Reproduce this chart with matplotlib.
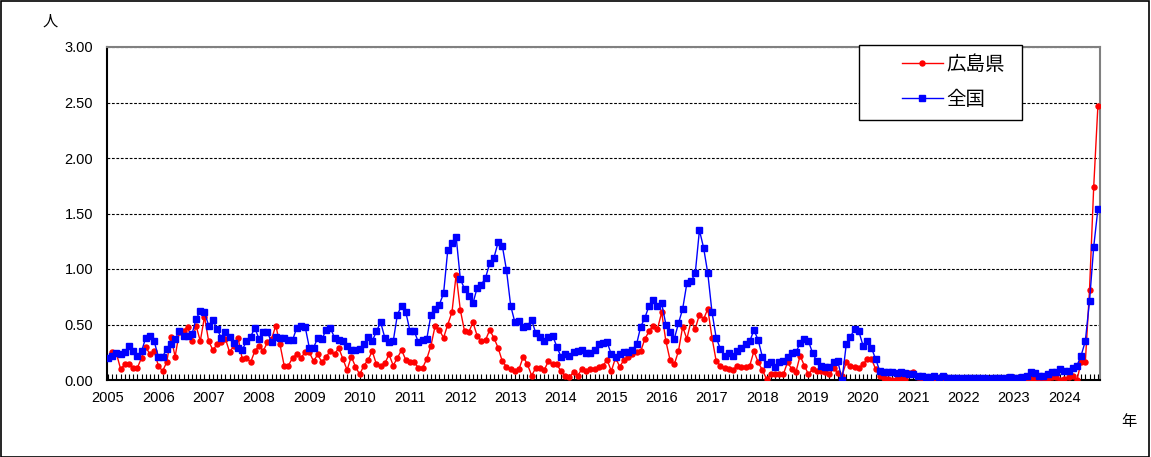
# plot.py
# 広島県と全国の月別推移 (2005年1月〜2024年9月)

import matplotlib
matplotlib.use("Agg")
import matplotlib.pyplot as plt
from matplotlib.patches import Rectangle
from matplotlib.ticker import FixedLocator, FormatStrFormatter

plt.rcParams["font.family"] = ["Liberation Sans", "Noto Sans CJK JP", "DejaVu Sans"]

YEARS = [str(y) for y in range(2005, 2025)]

# 広島県 (1年ごとに12か月、2024年は9か月)
hiroshima_05_09 = [
    0.20, 0.25, 0.24, 0.10, 0.14, 0.14, 0.11, 0.11, 0.20, 0.30, 0.23, 0.26,
    0.13, 0.08, 0.16, 0.39, 0.21, 0.43, 0.44, 0.48, 0.35, 0.49, 0.35, 0.57,
    0.35, 0.27, 0.32, 0.34, 0.37, 0.25, 0.31, 0.38, 0.19, 0.20, 0.16, 0.26,
    0.31, 0.26, 0.34, 0.37, 0.49, 0.32, 0.13, 0.13, 0.20, 0.23, 0.20, 0.25,
    0.25, 0.17, 0.23, 0.16, 0.21, 0.26, 0.23, 0.29, 0.19, 0.09, 0.21, 0.12,
]
hiroshima_10_14 = [
    0.05, 0.13, 0.18, 0.26, 0.14, 0.13, 0.15, 0.23, 0.13, 0.20, 0.27, 0.18,
    0.16, 0.16, 0.11, 0.11, 0.19, 0.31, 0.49, 0.45, 0.38, 0.50, 0.61, 0.95,
    0.63, 0.44, 0.43, 0.52, 0.40, 0.35, 0.36, 0.45, 0.38, 0.29, 0.17, 0.12,
    0.10, 0.08, 0.10, 0.21, 0.14, 0.04, 0.11, 0.11, 0.09, 0.17, 0.14, 0.14,
    0.08, 0.04, 0.03, 0.07, 0.04, 0.10, 0.08, 0.10, 0.10, 0.12, 0.13, 0.18,
]
hiroshima_15_19 = [
    0.08, 0.20, 0.12, 0.18, 0.21, 0.23, 0.25, 0.26, 0.37, 0.44, 0.49, 0.46,
    0.61, 0.35, 0.18, 0.14, 0.26, 0.48, 0.37, 0.53, 0.46, 0.59, 0.55, 0.64,
    0.38, 0.17, 0.13, 0.11, 0.10, 0.09, 0.13, 0.12, 0.12, 0.13, 0.26, 0.16,
    0.09, 0.01, 0.05, 0.05, 0.05, 0.05, 0.16, 0.10, 0.07, 0.22, 0.13, 0.05,
    0.10, 0.08, 0.08, 0.07, 0.05, 0.11, 0.06, 0.04, 0.16, 0.13, 0.12, 0.11,
]
hiroshima_20_24 = [
    0.14, 0.19, 0.19, 0.10, 0.04, 0.02, 0.01, 0.00, 0.01, 0.01, 0.01, 0.06,
    0.07, 0.03, 0.00, 0.01, 0.01, 0.00, 0.00, 0.01, 0.00, 0.00, 0.01, 0.00,
    0.00, 0.01, 0.00, 0.00, 0.01, 0.00, 0.00, 0.01, 0.00, 0.01, 0.00, 0.01,
    0.00, 0.01, 0.02, 0.00, 0.01, 0.02, 0.01, 0.00, 0.01, 0.03, 0.03, 0.00,
    0.01, 0.03, 0.04, 0.00, 0.16, 0.16, 0.81, 1.74, 2.47,
]

# 全国
zenkoku_05_09 = [
    0.20, 0.22, 0.24, 0.23, 0.25, 0.31, 0.26, 0.22, 0.26, 0.38, 0.40, 0.35,
    0.21, 0.21, 0.28, 0.32, 0.37, 0.44, 0.40, 0.40, 0.41, 0.55, 0.62, 0.61,
    0.49, 0.54, 0.46, 0.38, 0.43, 0.39, 0.33, 0.29, 0.27, 0.35, 0.39, 0.47,
    0.37, 0.43, 0.43, 0.34, 0.39, 0.38, 0.38, 0.36, 0.36, 0.47, 0.49, 0.48,
    0.29, 0.29, 0.38, 0.37, 0.45, 0.47, 0.38, 0.36, 0.35, 0.31, 0.27, 0.27,
]
zenkoku_10_14 = [
    0.28, 0.32, 0.39, 0.35, 0.44, 0.52, 0.38, 0.34, 0.35, 0.59, 0.67, 0.61,
    0.44, 0.44, 0.34, 0.36, 0.37, 0.59, 0.64, 0.68, 0.78, 1.17, 1.23, 1.29,
    0.91, 0.82, 0.76, 0.69, 0.83, 0.86, 0.92, 1.05, 1.10, 1.24, 1.21, 0.99,
    0.67, 0.52, 0.53, 0.48, 0.49, 0.54, 0.42, 0.39, 0.35, 0.39, 0.40, 0.30,
    0.21, 0.23, 0.22, 0.25, 0.26, 0.27, 0.24, 0.24, 0.27, 0.32, 0.33, 0.34,
]
zenkoku_15_19 = [
    0.23, 0.21, 0.23, 0.25, 0.25, 0.27, 0.32, 0.48, 0.56, 0.67, 0.72, 0.67,
    0.69, 0.50, 0.43, 0.37, 0.51, 0.64, 0.87, 0.89, 0.96, 1.35, 1.19, 0.96,
    0.61, 0.38, 0.28, 0.22, 0.24, 0.22, 0.26, 0.29, 0.32, 0.35, 0.45, 0.36,
    0.21, 0.14, 0.16, 0.12, 0.16, 0.17, 0.21, 0.24, 0.25, 0.33, 0.37, 0.35,
    0.24, 0.17, 0.13, 0.12, 0.12, 0.16, 0.17, 0.00, 0.32, 0.39, 0.46, 0.44,
]
zenkoku_20_24 = [
    0.31, 0.35, 0.29, 0.19, 0.08, 0.07, 0.07, 0.07, 0.06, 0.07, 0.06, 0.05,
    0.05, 0.04, 0.04, 0.03, 0.03, 0.04, 0.02, 0.04, 0.02, 0.02, 0.02, 0.02,
    0.02, 0.02, 0.02, 0.02, 0.02, 0.02, 0.01, 0.02, 0.02, 0.02, 0.02, 0.03,
    0.02, 0.02, 0.03, 0.04, 0.07, 0.06, 0.04, 0.04, 0.05, 0.07, 0.07, 0.10,
    0.08, 0.08, 0.11, 0.13, 0.22, 0.35, 0.71, 1.20, 1.54,
]

hiroshima = hiroshima_05_09 + hiroshima_10_14 + hiroshima_15_19 + hiroshima_20_24
zenkoku = zenkoku_05_09 + zenkoku_10_14 + zenkoku_15_19 + zenkoku_20_24
months = list(range(len(hiroshima)))

W, H = 1151, 457
fig = plt.figure(figsize=(W / 100, H / 100), dpi=100)
ax = fig.add_axes([107 / W, 1 - 380 / H, 993 / W, 333 / H])

ax.plot(months, hiroshima, color="#ff0000", lw=1.0, marker="o", ms=3.6,
        label="広島県", zorder=3)
ax.plot(months, zenkoku, color="#0000ff", lw=1.0, marker="s", ms=4.0,
        label="全国", zorder=4)

ax.set_xlim(-0.24, 236.5)
ax.set_ylim(0, 3.0)

# 軸・目盛
ax.yaxis.set_major_locator(FixedLocator([i * 0.5 for i in range(7)]))
ax.yaxis.set_major_formatter(FormatStrFormatter("%.2f"))
ax.tick_params(axis="y", length=0, pad=10, labelsize=10.5)

ax.set_xticks(range(0, len(months), 12))
ax.set_xticklabels(YEARS, fontsize=10.5)
ax.set_xticks(months, minor=True)
ax.tick_params(axis="x", which="both", direction="in", length=4, width=0.8,
               color="black", pad=8)

ax.grid(axis="y", color="black", linestyle=(0, (2.5, 1.5)), linewidth=0.8)
ax.set_axisbelow(True)

ax.spines["left"].set_color("black")
ax.spines["bottom"].set_color("black")
ax.spines["top"].set_color("#808080")
ax.spines["right"].set_color("#808080")
for s in ax.spines.values():
    s.set_linewidth(1.5)

# 凡例 (枠は別に描く)
box = Rectangle((859 / W, 1 - 120 / H), 163 / W, 75 / H,
                transform=fig.transFigure, facecolor="white",
                edgecolor="black", linewidth=1.0, zorder=9, clip_on=False)
ax.add_patch(box)
leg = ax.legend(loc="upper left", bbox_to_anchor=(902 / W, 1 - 55.5 / H),
                bbox_transform=fig.transFigure, fontsize=14, frameon=False,
                handlelength=2.1, handletextpad=0.2, labelspacing=0.85,
                borderpad=0, borderaxespad=0)
leg.set_zorder(10)

fig.text(50 / W, 1 - 22 / H, "人", fontsize=11, ha="center", va="center")
fig.text(1129 / W, 1 - 422 / H, "年", fontsize=11, ha="center", va="center")

# 外枠
fig.patches.append(Rectangle((0.0005, 0.001), 0.998, 0.997, transform=fig.transFigure,
                             fill=False, edgecolor="black", linewidth=1.2))

fig.savefig("out.png", dpi=100, facecolor="white")
